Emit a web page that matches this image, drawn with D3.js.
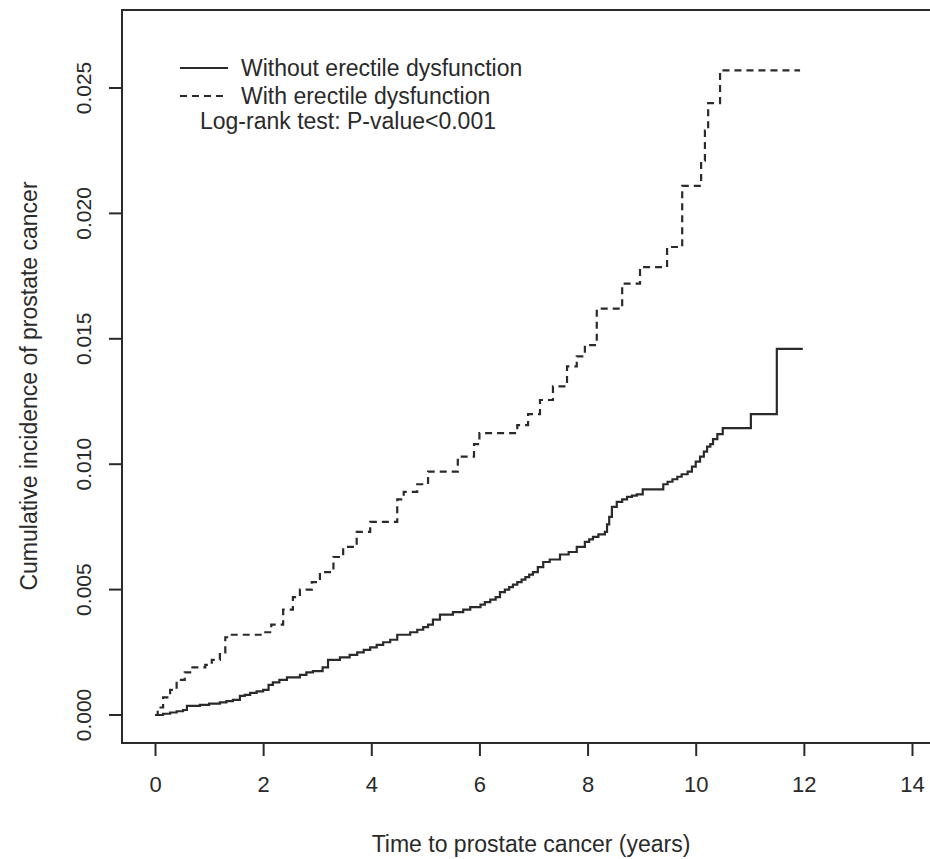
<!DOCTYPE html>
<html>
<head>
<meta charset="utf-8">
<script src="https://cdn.jsdelivr.net/npm/d3@7"></script>
<style>
  body { margin: 0; background: #fff; }
  svg { display: block; font-family: "Liberation Sans", Arial, sans-serif; }
</style>
</head>
<body>
<div id="chart"></div>
<script>
// Cumulative incidence step curves (time in years, cumulative incidence)
const noEdTimes = [0, 0.15, 0.28, 0.4, 0.52, 0.59, 0.83, 1.0, 1.2, 1.32, 1.44, 1.57, 1.66, 1.76, 1.88, 2.0, 2.1, 2.18, 2.3, 2.44, 2.68, 2.8, 2.92, 3.1, 3.2, 3.42, 3.6, 3.74, 3.86, 3.98, 4.1, 4.22, 4.35, 4.48, 4.72, 4.85, 4.96, 5.05, 5.14, 5.27, 5.51, 5.7, 5.83, 6.02, 6.1, 6.2, 6.3, 6.38, 6.47, 6.55, 6.62, 6.7, 6.78, 6.85, 6.92, 6.99, 7.08, 7.18, 7.3, 7.49, 7.65, 7.8, 7.95, 8.03, 8.1, 8.2, 8.32, 8.36, 8.4, 8.45, 8.54, 8.64, 8.73, 8.82, 8.91, 9.02, 9.4, 9.48, 9.57, 9.66, 9.74, 9.85, 9.93, 10.0, 10.08, 10.15, 10.21, 10.27, 10.32, 10.4, 10.5, 11.02, 11.5, 11.98];
const noEdValues = [0, 0.00005, 0.0001, 0.00015, 0.0002, 0.00036, 0.0004, 0.00045, 0.0005, 0.00055, 0.0006, 0.00076, 0.0008, 0.00088, 0.00094, 0.001, 0.0012, 0.0013, 0.0014, 0.0015, 0.0016, 0.0017, 0.00175, 0.0019, 0.0022, 0.0023, 0.0024, 0.0025, 0.0026, 0.0027, 0.0028, 0.0029, 0.003, 0.0032, 0.0033, 0.0034, 0.0035, 0.0036, 0.0038, 0.004, 0.0041, 0.0042, 0.0043, 0.0044, 0.0045, 0.0046, 0.0047, 0.0049, 0.005, 0.0051, 0.0052, 0.0053, 0.0054, 0.0055, 0.0056, 0.0057, 0.0059, 0.0061, 0.0062, 0.0064, 0.0065, 0.0067, 0.0069, 0.007, 0.0071, 0.0072, 0.0073, 0.0076, 0.0079, 0.0083, 0.0085, 0.0086, 0.0087, 0.00875, 0.0088, 0.009, 0.0092, 0.0093, 0.0094, 0.0095, 0.0096, 0.0097, 0.0099, 0.0101, 0.0103, 0.0105, 0.0107, 0.0108, 0.011, 0.0112, 0.01144, 0.012, 0.0146, 0.0146];

const edTimes = [0, 0.05, 0.15, 0.28, 0.4, 0.55, 0.65, 0.93, 1.05, 1.2, 1.3, 1.4, 2.0, 2.15, 2.37, 2.55, 2.68, 2.9, 3.05, 3.3, 3.48, 3.73, 3.98, 4.48, 4.6, 4.85, 5.05, 5.6, 5.9, 6.0, 6.7, 6.9, 7.12, 7.36, 7.62, 7.8, 7.95, 8.17, 8.64, 8.97, 9.47, 9.75, 10.1, 10.17, 10.23, 10.45, 11.93];
const edValues = [0, 0.0003, 0.0007, 0.001, 0.0014, 0.0017, 0.0019, 0.002, 0.0022, 0.0025, 0.0031, 0.0032, 0.0033, 0.0036, 0.0042, 0.0047, 0.005, 0.0053, 0.0057, 0.0063, 0.0067, 0.0073, 0.0077, 0.0086, 0.0089, 0.0092, 0.0097, 0.0103, 0.0108, 0.01124, 0.01156, 0.012, 0.01256, 0.0131, 0.0139, 0.0143, 0.01475, 0.0162, 0.0172, 0.01786, 0.01866, 0.0211, 0.0221, 0.0233, 0.0244, 0.0257, 0.0257];

const xTicks = [0, 2, 4, 6, 8, 10, 12, 14];
const yTicks = [0.000, 0.005, 0.010, 0.015, 0.020, 0.025];

const seriesNames = ["Without erectile dysfunction", "With erectile dysfunction"];
const testNote = "Log-rank test: P-value<0.001";
const xTitle = "Time to prostate cancer (years)";
const yTitle = "Cumulative incidence of prostate cancer";

function drawChart() {
    const width = 930;
    const height = 859;
    const ink = "#2a2a2a";

    const svg = d3.select("#chart")
        .append("svg")
        .attr("width", width)
        .attr("height", height);

    const x = d3.scaleLinear().domain([0, 14]).range([155, 912]);
    const y = d3.scaleLinear().domain([0, 0.025]).range([715, 88]);

    // plot frame (right side runs off the picture)
    const box = { left: 122, top: 10, bottom: 743, right: 945 };
    svg.append("rect")
        .attr("x", box.left)
        .attr("y", box.top)
        .attr("width", box.right - box.left)
        .attr("height", box.bottom - box.top)
        .attr("fill", "none")
        .attr("stroke", ink)
        .attr("stroke-width", 2);

    // -- X axis --
    const xAxis = d3.axisBottom(x)
        .tickValues(xTicks)
        .tickSize(13)
        .tickPadding(20)
        .tickFormat(d3.format("d"));

    const gx = svg.append("g")
        .attr("transform", `translate(0,${box.bottom})`)
        .call(xAxis);
    gx.select(".domain").remove();
    gx.selectAll(".tick line").attr("stroke", ink).attr("stroke-width", 2);
    gx.selectAll(".tick text")
        .attr("fill", ink)
        .style("font-size", "22px")
        .style("font-family", "'Liberation Sans', Arial, sans-serif");

    // -- Y axis (labels parallel to axis, like R's default) --
    const gy = svg.append("g");
    gy.selectAll("line")
        .data(yTicks)
        .join("line")
        .attr("x1", box.left)
        .attr("x2", box.left - 13)
        .attr("y1", d => y(d))
        .attr("y2", d => y(d))
        .attr("stroke", ink)
        .attr("stroke-width", 2);

    gy.selectAll("text")
        .data(yTicks)
        .join("text")
        .attr("transform", d => `translate(91,${y(d)}) rotate(-90)`)
        .attr("text-anchor", "middle")
        .attr("fill", ink)
        .style("font-size", "21px")
        .text(d3.format(".3f"));

    // axis titles
    svg.append("text")
        .attr("x", 531)
        .attr("y", 852)
        .attr("text-anchor", "middle")
        .attr("fill", ink)
        .style("font-size", "23px")
        .text(xTitle);

    svg.append("text")
        .attr("transform", `translate(37,386) rotate(-90)`)
        .attr("text-anchor", "middle")
        .attr("fill", ink)
        .style("font-size", "23px")
        .text(yTitle);

    // -- Step curves --
    const line = d3.line()
        .x(d => x(d[0]))
        .y(d => y(d[1]))
        .curve(d3.curveStepAfter);

    const noEd = d3.zip(noEdTimes, noEdValues);
    const withEd = d3.zip(edTimes, edValues);

    svg.append("path")
        .datum(noEd)
        .attr("d", line)
        .attr("fill", "none")
        .attr("stroke", ink)
        .attr("stroke-width", 2.2);

    svg.append("path")
        .datum(withEd)
        .attr("d", line)
        .attr("fill", "none")
        .attr("stroke", ink)
        .attr("stroke-width", 2.2)
        .attr("stroke-dasharray", "7,5");

    // -- Legend --
    const legend = svg.append("g");
    const rows = [
        { name: seriesNames[0], dash: null, cy: 68 },
        { name: seriesNames[1], dash: "7,5", cy: 96 }
    ];
    rows.forEach(r => {
        legend.append("line")
            .attr("x1", 180).attr("x2", 228)
            .attr("y1", r.cy).attr("y2", r.cy)
            .attr("stroke", ink)
            .attr("stroke-width", 2.2)
            .attr("stroke-dasharray", r.dash);
        legend.append("text")
            .attr("x", 241)
            .attr("y", r.cy + 8)
            .attr("fill", ink)
            .style("font-size", "23px")
            .text(r.name);
    });
    legend.append("text")
        .attr("x", 200)
        .attr("y", 129)
        .attr("fill", ink)
        .style("font-size", "23px")
        .text(testNote);
}

drawChart();
</script>
</body>
</html>
